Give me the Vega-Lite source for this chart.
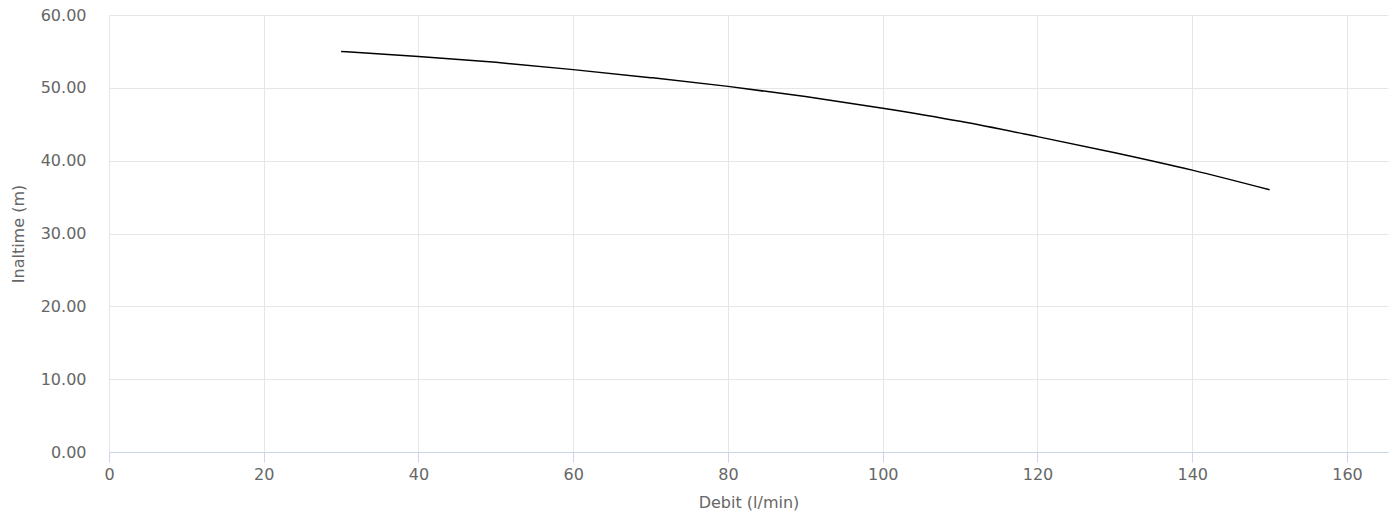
{
  "$schema": "https://vega.github.io/schema/vega-lite/v6.json",
  "autosize": "none",
  "width": 1279,
  "height": 437,
  "padding": {"left": 109, "top": 15, "right": 8, "bottom": 71},
  "background": "white",
  "config": {
    "view": {"stroke": null},
    "font": "DejaVu Sans",
    "axis": {
      "labelFont": "DejaVu Sans",
      "titleFont": "DejaVu Sans",
      "labelColor": "#666666",
      "titleColor": "#666666",
      "labelFontSize": 16,
      "titleFontSize": 16,
      "titleFontWeight": "normal",
      "gridColor": "#e6e6e6",
      "gridWidth": 1
    }
  },
  "data": {
    "values": [
      {"q": 30, "h": 55.0},
      {"q": 40, "h": 54.3},
      {"q": 50, "h": 53.5},
      {"q": 60, "h": 52.5},
      {"q": 70, "h": 51.4},
      {"q": 80, "h": 50.2},
      {"q": 90, "h": 48.8},
      {"q": 100, "h": 47.2},
      {"q": 110, "h": 45.4},
      {"q": 120, "h": 43.3},
      {"q": 130, "h": 41.1},
      {"q": 140, "h": 38.7},
      {"q": 150, "h": 36.0}
    ]
  },
  "mark": {"type": "line", "color": "#000000", "strokeWidth": 1.5, "interpolate": "monotone", "clip": true},
  "encoding": {
    "x": {
      "field": "q",
      "type": "quantitative",
      "scale": {"domain": [0, 165.3], "nice": false, "zero": false},
      "axis": {
        "title": "Debit (l/min)",
        "values": [0, 20, 40, 60, 80, 100, 120, 140, 160],
        "format": "d",
        "grid": true,
        "labelFlush": false,
        "domainColor": "#ccd6eb",
        "tickColor": "#ccd6eb",
        "tickSize": 10,
        "labelPadding": 4,
        "titlePadding": 12
      }
    },
    "y": {
      "field": "h",
      "type": "quantitative",
      "scale": {"domain": [0, 60], "nice": false},
      "axis": {
        "title": "Inaltime (m)",
        "values": [0, 10, 20, 30, 40, 50, 60],
        "format": ".2f",
        "grid": true,
        "domain": false,
        "ticks": false,
        "labelFlush": false,
        "labelPadding": 23,
        "titlePadding": 14
      }
    }
  }
}
